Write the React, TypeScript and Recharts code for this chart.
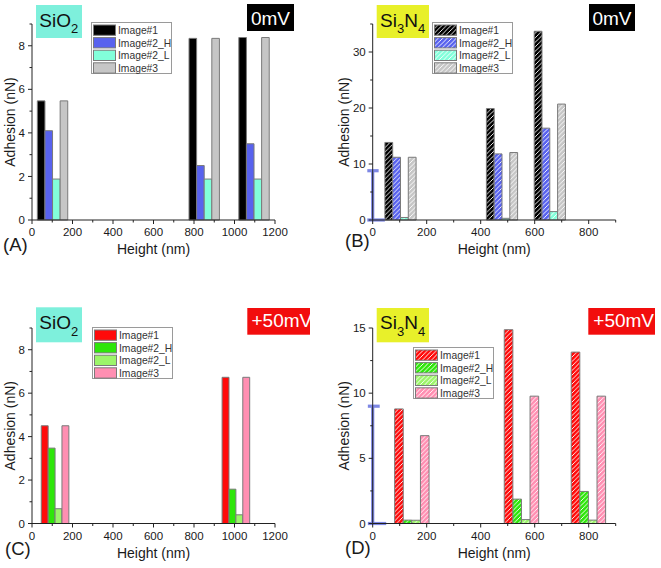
import { BarChart, Bar, XAxis, YAxis, Legend, ReferenceLine } from 'recharts';

const FONT = '"Liberation Sans", Arial, Helvetica, sans-serif';
const INK = '#1a1a1a';
const AXIS = '#222';
const BAR_EDGE = '#7a7a7a';
const MARKER = '#7d87e4';

// series shared by all four panels
const seriesNames = ['Image#1', 'Image#2_H', 'Image#2_L', 'Image#3'];
const seriesKeys = ['img1', 'img2H', 'img2L', 'img3'];
const colors0mV = ['#000000', '#5862ee', '#82ffda', '#c6c6c6'];
const colors50mV = ['#ff0a0a', '#2ee60a', '#9cf56a', '#ff8fb2'];

// (A) SiO2, 0 mV
const heightA = [100, 849, 1095];
const image1A = [5.47, 8.34, 8.38];
const image2HA = [4.1, 2.5, 3.5];
const image2LA = [1.88, 1.88, 1.88];
const image3A = [5.47, 8.34, 8.38];

// (B) Si3N4, 0 mV
const heightB = [104, 480, 657];
const image1B = [13.85, 19.9, 33.7];
const image2HB = [11.2, 11.8, 16.4];
const image2LB = [0.45, 0.3, 1.5];
const image3B = [11.2, 12.05, 20.7];

// (C) SiO2, +50 mV
const heightC = [112, 1005];
const image1C = [4.5, 6.73];
const image2HC = [3.47, 1.58];
const image2LC = [0.68, 0.4];
const image3C = [4.5, 6.73];

// (D) Si3N4, +50 mV
const heightD = [146, 552, 800];
const image1D = [8.79, 14.87, 13.15];
const image2HD = [0.26, 1.87, 2.46];
const image2LD = [0.25, 0.3, 0.26];
const image3D = [6.74, 9.77, 9.77];

// ticks (minor ones get no label)
const xTicks1200 = [0, 100, 200, 300, 400, 500, 600, 700, 800, 900, 1000, 1100, 1200];
const xTicks900 = [0, 100, 200, 300, 400, 500, 600, 700, 800, 900];
const yTicks9 = [0, 1, 2, 3, 4, 5, 6, 7, 8, 9];
const yTicks35 = [0, 5, 10, 15, 20, 25, 30, 35];
const yTicks15 = [0, 2.5, 5, 7.5, 10, 12.5, 15];

// blue scale bar drawn over the y axis in (B) and (D)
type Pt = { x: number; y: number };
const markerB: Pt[][] = [
  [{ x: 0, y: 0 }, { x: 0, y: 8.8 }],
  [{ x: -20, y: 8.8 }, { x: 22, y: 8.8 }],
  [{ x: -20, y: 0 }, { x: 45, y: 0 }],
];
const markerD: Pt[][] = [
  [{ x: 0, y: 0 }, { x: 0, y: 9 }],
  [{ x: -18, y: 9 }, { x: 26, y: 9 }],
  [{ x: -18, y: 0 }, { x: 50, y: 0 }],
];

const isMajor = (v: number, step: number) => Math.abs(v / step - Math.round(v / step)) < 1e-6;

function XTick(props: any) {
  const { x, y, payload, step } = props;
  const v = payload.value;
  const major = isMajor(v, step);
  return (
    <g>
      <line x1={x} x2={x} y1={y} y2={y + (major ? 4 : 2.5)} stroke={AXIS} />
      {major && (
        <text x={x} y={y + 16} textAnchor="middle" fontSize={11.5} fill={INK}>
          {v}
        </text>
      )}
    </g>
  );
}

function YTick(props: any) {
  const { x, y, payload, step } = props;
  const v = payload.value;
  const major = isMajor(v, step);
  return (
    <g>
      <line x1={x - (major ? 4 : 2.5)} x2={x} y1={y} y2={y} stroke={AXIS} />
      {major && (
        <text x={x - 7} y={y} dy="0.36em" textAnchor="end" fontSize={11.5} fill={INK}>
          {v}
        </text>
      )}
    </g>
  );
}

function Hatch({ id, color }: { id: string; color: string }) {
  return (
    <pattern id={id} patternUnits="userSpaceOnUse" width={4.5} height={4.5}>
      <rect width={4.5} height={4.5} fill={color} />
      <path d="M-1,1 l2,-2 M0,4.5 l4.5,-4.5 M3.5,5.5 l2,-2" stroke="#fff" strokeWidth={0.9} />
    </pattern>
  );
}

function LegendBox({ fills }: { fills: string[] }) {
  const w = 81;
  const h = 52;
  return (
    <svg width={w} height={h} style={{ display: 'block' }}>
      <rect x={0.5} y={0.5} width={w - 1} height={h - 1} fill="#fff" stroke="#9a9a9a" />
      {seriesNames.map((name, i) => (
        <g key={name}>
          <rect x={2.5} y={3 + i * 12.6} width={22} height={10.3} fill={fills[i]} stroke={BAR_EDGE} />
          <text x={27} y={3 + i * 12.6 + 8.9} fontSize={10.3} fill="#333">
            {name}
          </text>
        </g>
      ))}
    </svg>
  );
}

interface PanelProps {
  id: string;
  left: number;
  top: number;
  width: number;
  height: number;
  margin: { top: number; right: number; bottom: number; left: number };
  heights: number[];
  values: number[][];
  colors: string[];
  hatched: boolean;
  barSize: number;
  xMax: number;
  xTicks: number[];
  yMax: number;
  yTicks: number[];
  yStep: number;
  yLabelOffset: number;
  legendAt: { left: number; top: number };
  marker?: Pt[][];
}

function Panel(p: PanelProps) {
  const rows = p.heights.map((h, i) => {
    const row: Record<string, number> = { h };
    seriesKeys.forEach((k, s) => {
      row[k] = p.values[s][i];
    });
    return row;
  });
  const fills = p.colors.map((c, s) => (p.hatched ? `url(#${p.id}-hatch-${s})` : c));

  return (
    <div style={{ position: 'absolute', left: p.left, top: p.top }}>
      <BarChart width={p.width} height={p.height} data={rows} margin={p.margin} barGap={0}>
        <defs>
          {p.colors.map((c, s) => (
            <Hatch key={s} id={`${p.id}-hatch-${s}`} color={c} />
          ))}
        </defs>
        <XAxis
          dataKey="h"
          type="number"
          domain={[0, p.xMax]}
          ticks={p.xTicks}
          interval={0}
          height={38}
          axisLine={{ stroke: AXIS }}
          tickLine={false}
          tickSize={0}
          tickMargin={0}
          tick={<XTick step={200} />}
          label={{ value: 'Height (nm)', position: 'insideBottom', offset: 4, fontSize: 14, fill: INK }}
        />
        <YAxis
          type="number"
          domain={[0, p.yMax]}
          ticks={p.yTicks}
          interval={0}
          width={30}
          axisLine={{ stroke: AXIS }}
          tickLine={false}
          tickSize={0}
          tickMargin={0}
          tick={<YTick step={p.yStep} />}
          label={{
            value: 'Adhesion (nN)',
            angle: -90,
            position: 'insideLeft',
            offset: p.yLabelOffset,
            fontSize: 14,
            fill: INK,
            style: { textAnchor: 'middle' },
          }}
        />
        <Legend
          layout="horizontal"
          verticalAlign="middle"
          align="center"
          wrapperStyle={{ left: p.legendAt.left, top: p.legendAt.top, width: 'auto', height: 'auto' }}
          content={() => <LegendBox fills={fills} />}
        />
        {seriesKeys.map((k, s) => (
          <Bar
            key={k}
            dataKey={k}
            name={seriesNames[s]}
            fill={fills[s]}
            stroke={BAR_EDGE}
            strokeWidth={1}
            barSize={p.barSize}
            isAnimationActive={false}
          />
        ))}
        {p.marker?.map((seg, i) => (
          <ReferenceLine key={i} segment={seg} stroke={MARKER} strokeWidth={3.2} ifOverflow="visible" />
        ))}
      </BarChart>
    </div>
  );
}

function Formula({ x, y, main, subs }: { x: number; y: number; main: string[]; subs: string[] }) {
  return (
    <text x={x} y={y} fontSize={19} fill="#111">
      {main.map((m, i) => [
        <tspan key={`m${i}`} fontSize={19} dy={i === 0 ? 0 : -6.6}>
          {m}
        </tspan>,
        subs[i] ? (
          <tspan key={`s${i}`} fontSize={13} dy={6.6}>
            {subs[i]}
          </tspan>
        ) : null,
      ])}
    </text>
  );
}

function Overlay() {
  return (
    <svg
      width={661}
      height={568}
      style={{ position: 'absolute', left: 0, top: 0, pointerEvents: 'none' }}
    >
      <defs>
        <clipPath id="clip-c50">
          <rect x={247.3} y={308} width={62.7} height={26.7} />
        </clipPath>
      </defs>

      {/* (A) */}
      <rect x={36} y={5} width={46} height={33} fill="#7ef0dc" />
      <Formula x={39.3} y={26.7} main={['SiO']} subs={['2']} />
      <rect x={247} y={4} width={47} height={27} fill="#000" />
      <text x={270.5} y={25} textAnchor="middle" fontSize={19} fill="#fff">0mV</text>
      <text x={3} y={251} fontSize={18.5} fill={INK}>(A)</text>

      {/* (B) */}
      <rect x={376.7} y={5} width={52.3} height={33} fill="#e8f02a" />
      <Formula x={380} y={26.7} main={['Si', 'N']} subs={['3', '4']} />
      <rect x={589} y={4} width={46} height={27} fill="#000" />
      <text x={612} y={25} textAnchor="middle" fontSize={19} fill="#fff">0mV</text>
      <text x={345} y={246.5} fontSize={18.5} fill={INK}>(B)</text>

      {/* (C) */}
      <rect x={36} y={307.3} width={46} height={35} fill="#7ef0dc" />
      <Formula x={39.3} y={329} main={['SiO']} subs={['2']} />
      <rect x={247.3} y={308} width={62.7} height={26.7} fill="#f20d0d" />
      <text x={251.5} y={327.3} fontSize={19} fill="#fff" clipPath="url(#clip-c50)">+50mV</text>
      <text x={5} y={555} fontSize={18.5} fill={INK}>(C)</text>

      {/* (D) */}
      <rect x={376.7} y={308} width={52.3} height={34.3} fill="#e8f02a" />
      <Formula x={380} y={329} main={['Si', 'N']} subs={['3', '4']} />
      <rect x={588.3} y={308} width={66.7} height={26.7} fill="#f20d0d" />
      <text x={593.3} y={326.7} fontSize={19} fill="#fff">+50mV</text>
      <text x={345} y={554} fontSize={18.5} fill={INK}>(D)</text>
    </svg>
  );
}

export default function App() {
  return (
    <div
      style={{
        position: 'absolute',
        left: 0,
        top: 0,
        width: 661,
        height: 568,
        background: '#fff',
        fontFamily: FONT,
        overflow: 'hidden',
      }}
    >
      <Panel
        id="pa"
        left={0}
        top={0}
        width={330}
        height={284}
        margin={{ top: 24, right: 55, bottom: 26, left: 2 }}
        heights={heightA}
        values={[image1A, image2HA, image2LA, image3A]}
        colors={colors0mV}
        hatched={false}
        barSize={7.6}
        xMax={1200}
        xTicks={xTicks1200}
        yMax={9}
        yTicks={yTicks9}
        yStep={2}
        yLabelOffset={7.8}
        legendAt={{ left: 90.7, top: 21.7 }}
      />
      <Panel
        id="pb"
        left={330}
        top={0}
        width={331}
        height={284}
        margin={{ top: 24, right: 45.3, bottom: 26, left: 12.7 }}
        heights={heightB}
        values={[image1B, image2HB, image2LB, image3B]}
        colors={colors0mV}
        hatched={true}
        barSize={7.8}
        xMax={900}
        xTicks={xTicks900}
        yMax={35}
        yTicks={yTicks35}
        yStep={10}
        yLabelOffset={1.3}
        legendAt={{ left: 101.7, top: 21.7 }}
        marker={markerB}
      />
      <Panel
        id="pc"
        left={0}
        top={284}
        width={330}
        height={284}
        margin={{ top: 44, right: 55, bottom: 6.5, left: 2 }}
        heights={heightC}
        values={[image1C, image2HC, image2LC, image3C]}
        colors={colors50mV}
        hatched={false}
        barSize={6.9}
        xMax={1200}
        xTicks={xTicks1200}
        yMax={9}
        yTicks={yTicks9}
        yStep={2}
        yLabelOffset={7.8}
        legendAt={{ left: 91.7, top: 42.7 }}
      />
      <Panel
        id="pd"
        left={330}
        top={284}
        width={331}
        height={284}
        margin={{ top: 44, right: 45.3, bottom: 6.5, left: 12.7 }}
        heights={heightD}
        values={[image1D, image2HD, image2LD, image3D]}
        colors={colors50mV}
        hatched={true}
        barSize={8.6}
        xMax={900}
        xTicks={xTicks900}
        yMax={15}
        yTicks={yTicks15}
        yStep={5}
        yLabelOffset={1.3}
        legendAt={{ left: 83, top: 62.7 }}
        marker={markerD}
      />
      <Overlay />
    </div>
  );
}
